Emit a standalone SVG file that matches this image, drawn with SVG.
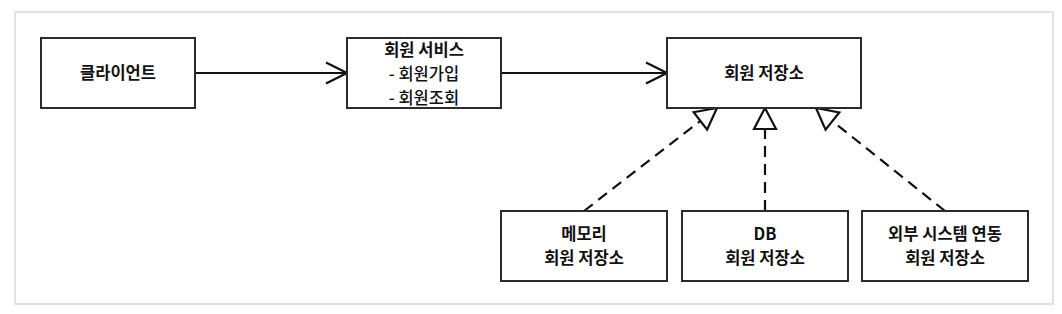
<svg xmlns="http://www.w3.org/2000/svg" width="1062" height="314" viewBox="0 0 1062 314">
  <style>
    .box { fill: #ffffff; stroke: #2b2b2b; stroke-width: 2; }
    .t { font-family: "Noto Sans CJK KR", "Liberation Sans", sans-serif; font-size: 16.5px; fill: #111; text-anchor: middle; font-weight: 700; }
    .s { font-weight: 500; }
    .solid { stroke: #111; stroke-width: 2; fill: none; }
    .dash { stroke: #111; stroke-width: 2.2; fill: none; stroke-dasharray: 11 7; }
  </style>
  <defs>
    <marker id="open" markerUnits="userSpaceOnUse" viewBox="0 0 24 24" markerWidth="24" markerHeight="24" refX="22" refY="12" orient="auto">
      <path d="M1,1.5 L22,12 L1,22.5" fill="none" stroke="#111" stroke-width="2.2"/>
    </marker>
    <marker id="tri" markerUnits="userSpaceOnUse" viewBox="0 0 26 28" markerWidth="26" markerHeight="28" refX="23" refY="14" orient="auto">
      <path d="M23,14 L2,3 L2,25 Z" fill="#ffffff" stroke="#111" stroke-width="2.2" stroke-linejoin="miter"/>
    </marker>
  </defs>
  <rect x="0" y="0" width="1062" height="314" fill="#ffffff"/>
  <rect x="15" y="12" width="1038" height="292" fill="#ffffff" stroke="#e2e2e2" stroke-width="2"/>

  <g id="connectors">
    <line class="solid" x1="195" y1="73" x2="347" y2="73" marker-end="url(#open)"/>
    <line class="solid" x1="501" y1="73" x2="667" y2="73" marker-end="url(#open)"/>
    <line class="dash" x1="584" y1="211" x2="717" y2="108" marker-end="url(#tri)"/>
    <line class="dash" x1="765" y1="211" x2="765" y2="108" marker-end="url(#tri)"/>
    <line class="dash" x1="945" y1="211" x2="816" y2="108" marker-end="url(#tri)"/>
  </g>

  <g id="client">
    <rect class="box" x="41" y="38" width="154" height="70"/>
    <text class="t" x="118" y="79.3">클라이언트</text>
  </g>

  <g id="member-service">
    <rect class="box" x="347" y="38" width="154" height="70"/>
    <text class="t" x="424" y="56.3">회원 서비스</text>
    <text class="t s" x="424" y="80.3">- 회원가입</text>
    <text class="t s" x="424" y="104.3">- 회원조회</text>
  </g>

  <g id="member-repository">
    <rect class="box" x="667" y="38" width="194" height="70"/>
    <text class="t" x="764" y="79.3">회원 저장소</text>
  </g>

  <g id="memory-repository">
    <rect class="box" x="501" y="211" width="166" height="70"/>
    <text class="t" x="584" y="240.3">메모리</text>
    <text class="t" x="584" y="264.3">회원 저장소</text>
  </g>

  <g id="db-repository">
    <rect class="box" x="682" y="211" width="166" height="70"/>
    <text class="t" x="765" y="240">DB</text>
    <text class="t" x="765" y="264.3">회원 저장소</text>
  </g>

  <g id="external-repository">
    <rect class="box" x="862" y="211" width="166" height="70"/>
    <text class="t" x="945" y="240.3">외부 시스템 연동</text>
    <text class="t" x="945" y="264.3">회원 저장소</text>
  </g>
</svg>
